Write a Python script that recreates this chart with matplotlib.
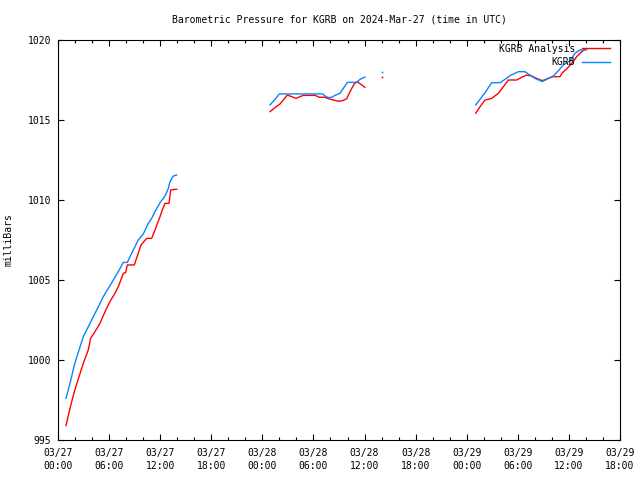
import matplotlib
matplotlib.use("Agg")
import matplotlib.pyplot as plt
import numpy as np
from matplotlib.ticker import MultipleLocator

# hours since 03/27 00:00 UTC, pressure in milliBars
obs_hours_1 = [0.94, 1.41, 1.92, 2.47, 2.97, 3.56, 4.15, 4.74, 5.32, 5.91, 6.5, 7.08, 7.67, 8.14,
               8.65, 9.43, 10.02, 10.6, 11.0, 11.39, 11.98, 12.57, 12.96, 13.15, 13.55, 13.94]
obs_vals_1 = [997.6, 998.54, 999.69, 1000.63, 1001.46, 1002.08, 1002.71, 1003.33, 1003.96, 1004.48,
              1005.0, 1005.52, 1006.1, 1006.1, 1006.67, 1007.5, 1007.88, 1008.54, 1008.85, 1009.27,
              1009.83, 1010.25, 1010.73, 1011.15, 1011.5, 1011.56]
obs_hours_2 = [24.9, 25.48, 25.99, 27.64, 29.6, 31.08, 31.36, 31.75, 32.14, 32.53, 33.12, 33.51,
               33.98, 35.08, 35.47, 36.05]
obs_vals_2 = [1015.94, 1016.29, 1016.63, 1016.63, 1016.63, 1016.63, 1016.5, 1016.4, 1016.42, 1016.54,
              1016.67, 1016.98, 1017.35, 1017.35, 1017.54, 1017.69]
obs_hours_3 = [49.05, 49.56, 50.15, 50.93, 51.91, 52.5, 53.08, 54.06, 54.84, 55.43, 56.02, 56.88,
               57.58, 58.17, 58.76, 59.35, 59.93, 60.13, 60.72, 61.3, 62.09]
obs_vals_3 = [1015.94, 1016.29, 1016.71, 1017.33, 1017.33, 1017.54, 1017.77, 1018.02, 1018.02,
              1017.81, 1017.6, 1017.4, 1017.6, 1017.75, 1018.08, 1018.44, 1018.65, 1018.69, 1019.17,
              1019.38, 1019.38]
obs_hours_4 = [38.0]
obs_vals_4 = [1018.02]

ana_hours_1 = [0.94, 1.41, 1.92, 2.47, 2.97, 3.56, 3.83, 4.34, 4.93, 5.52, 6.1, 6.69, 7.08, 7.67,
               7.94, 8.14, 8.96, 9.75, 10.41, 11.0, 11.39, 11.98, 12.25, 12.57, 13.04, 13.23, 13.94]
ana_vals_1 = [995.9, 996.98, 998.02, 998.96, 999.79, 1000.63, 1001.35, 1001.77, 1002.29, 1003.02,
              1003.65, 1004.17, 1004.58, 1005.42, 1005.46, 1005.94, 1005.94, 1007.19, 1007.6, 1007.6,
              1008.13, 1008.96, 1009.38, 1009.79, 1009.79, 1010.63, 1010.67]
ana_hours_2 = [24.9, 25.48, 26.07, 26.46, 26.93, 27.44, 27.95, 28.42, 28.81, 30.18, 30.69, 31.36,
               31.75, 32.34, 32.93, 33.43, 33.9, 34.29, 34.76, 35.08, 35.47, 36.05]
ana_vals_2 = [1015.52, 1015.77, 1016.0, 1016.25, 1016.56, 1016.46, 1016.35, 1016.46, 1016.54, 1016.54,
              1016.42, 1016.42, 1016.33, 1016.25, 1016.17, 1016.21, 1016.33, 1016.77, 1017.23, 1017.4,
              1017.27, 1017.04]
ana_hours_3 = [49.05, 49.56, 50.15, 50.93, 51.72, 52.3, 52.89, 53.87, 54.45, 55.04, 55.63, 56.22,
               56.88, 57.58, 58.17, 58.95, 59.23, 59.74, 60.33, 60.92, 61.5, 61.9]
ana_vals_3 = [1015.42, 1015.83, 1016.25, 1016.35, 1016.67, 1017.08, 1017.5, 1017.5, 1017.67, 1017.81,
              1017.75, 1017.6, 1017.46, 1017.6, 1017.71, 1017.71, 1017.95, 1018.2, 1018.54, 1018.96,
              1019.27, 1019.42]
ana_hours_4 = [38.0]
ana_vals_4 = [1017.67]

tick_hours = [0, 6, 12, 18, 24, 30, 36, 42, 48, 54, 60, 66]
tick_labels = ["03/27\n00:00", "03/27\n06:00", "03/27\n12:00", "03/27\n18:00",
               "03/28\n00:00", "03/28\n06:00", "03/28\n12:00", "03/28\n18:00",
               "03/29\n00:00", "03/29\n06:00", "03/29\n12:00", "03/29\n18:00"]


def join(*segs):
    xs, ys = [], []
    for h, v in segs:
        xs += list(h) + [np.nan]
        ys += list(v) + [np.nan]
    return xs, ys


plt.rcParams['font.family'] = 'DejaVu Sans Mono'
plt.rcParams['font.size'] = 7

fig = plt.figure(figsize=(6.4, 4.8), dpi=100)
ax = fig.add_axes([58 / 640, 40 / 480, 562 / 640, 400 / 480])

RED = '#ff0000'
BLUE = '#0a84ff'

ax_x, ax_y = join((ana_hours_1, ana_vals_1), (ana_hours_2, ana_vals_2), (ana_hours_3, ana_vals_3))
ob_x, ob_y = join((obs_hours_1, obs_vals_1), (obs_hours_2, obs_vals_2), (obs_hours_3, obs_vals_3))

ax.plot(ax_x, ax_y, color=RED, lw=1, label='KGRB Analysis')
ax.plot(ob_x, ob_y, color=BLUE, lw=1, label='KGRB')
ax.plot(ana_hours_4, ana_vals_4, 's', color=RED, ms=1.2, mew=0)
ax.plot(obs_hours_4, obs_vals_4, 's', color=BLUE, ms=1.2, mew=0)

ax.set_xlim(0, 66)
ax.set_ylim(995, 1020)
ax.set_xticks(tick_hours)
ax.set_xticklabels(tick_labels, linespacing=1.35)
ax.xaxis.set_minor_locator(MultipleLocator(2))
ax.set_yticks([995, 1000, 1005, 1010, 1015, 1020])
ax.tick_params(which='both', direction='in', top=True, right=True, width=0.8)
ax.tick_params(which='major', length=4, pad=6)
ax.tick_params(axis='y', which='major', pad=5)
ax.tick_params(which='minor', length=2)
for s in ax.spines.values():
    s.set_linewidth(0.8)

ax.set_ylabel('milliBars')
ax.yaxis.set_label_coords(-0.08, 0.5)
fig.text(339 / 640, 1 - 20 / 480, 'Barometric Pressure for KGRB on 2024-Mar-27 (time in UTC)',
         ha='center', va='center')

leg = ax.legend(loc='upper right', frameon=False, handlelength=2.9, handletextpad=0.7,
                borderaxespad=0, labelspacing=0.35, markerfirst=False,
                bbox_to_anchor=(0.989, 1.0))

fig.savefig('out.png', dpi=100)
